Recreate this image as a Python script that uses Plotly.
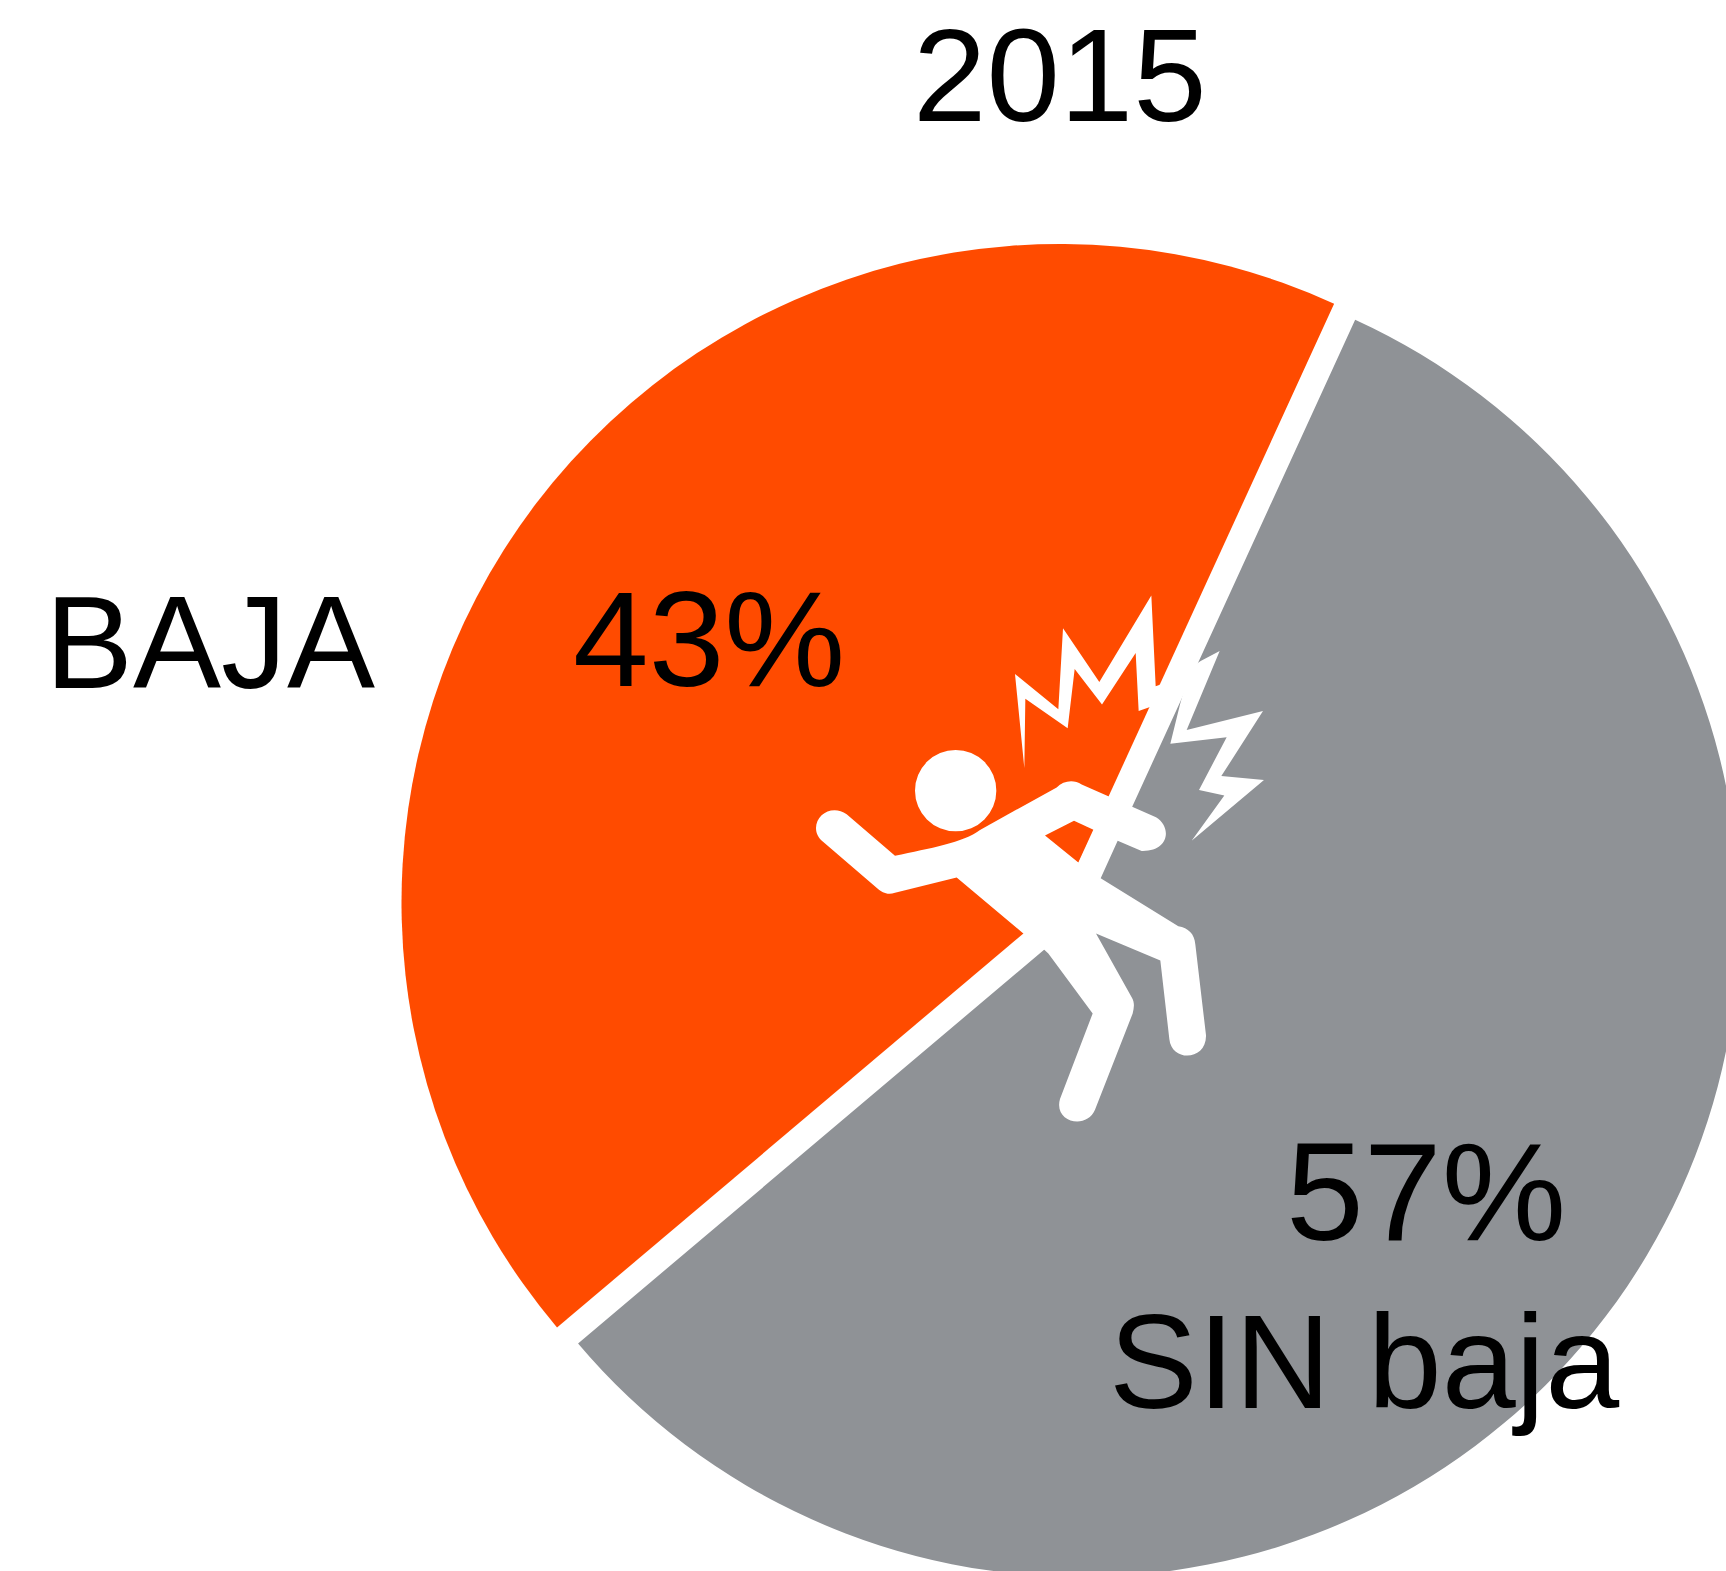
import plotly.graph_objects as go

# --- data ---
categories = ["BAJA", "SIN baja"]
values = [43, 57]
colors = ["#FF4B00", "#8F9296"]
year_label = "2015"
pull_fraction = [0, 0.0401]
start_angle = 229.8

# --- page geometry (pixels) ---
W, H = 1760, 1600
CX, CY, R = 1060.0, 902.5, 658.5
half = R * (1 + max(pull_fraction))
FONT = "Liberation Sans"
SX, SY = 3.0, 1568 / 570


def px(x, y):
    return x / W, 1 - y / H


def icon(x, y):
    """Icon drawing coordinates -> paper fractions."""
    return px(780 + x / SX, 570 + y / SY)


def path(cmds):
    out = []
    for c, *pts in cmds:
        coords = []
        for x, y in pts:
            a, b = icon(x, y)
            coords.append(f"{a:.5f},{b:.5f}")
        out.append(c + " ".join(coords))
    return " ".join(out)


body = [
    ("M", (108, 710)),
    ("C", (108, 670), (160, 645), (200, 672)),
    ("L", (345, 786)),
    ("C", (450, 765), (550, 750), (600, 715)),
    ("L", (830, 598)),
    ("C", (850, 580), (880, 575), (905, 590)),
    ("L", (1128, 680)),
    ("C", (1175, 705), (1170, 775), (1085, 773)),
    ("L", (1013, 745)),
    ("L", (962, 848)),
    ("L", (1195, 980)),
    ("C", (1225, 985), (1243, 1000), (1246, 1030)),
    ("L", (1278, 1280)),
    ("C", (1280, 1350), (1175, 1355), (1168, 1290)),
    ("L", (1141, 1074)),
    ("L", (948, 1000)),
    ("L", (1055, 1175)),
    ("C", (1065, 1190), (1062, 1205), (1058, 1220)),
    ("L", (945, 1485)),
    ("C", (920, 1540), (820, 1520), (840, 1455)),
    ("L", (938, 1220)),
    ("L", (805, 1055)),
    ("L", (793, 1045)),
    ("L", (730, 1000)),
    ("L", (530, 846)),
    ("L", (345, 888)),
    ("C", (320, 895), (305, 885), (295, 878)),
    ("L", (130, 748)),
    ("C", (115, 738), (108, 725), (108, 710)),
    ("Z",),
    ("M", (795, 730)),
    ("L", (882, 690)),
    ("L", (942, 715)),
    ("L", (896, 805)),
    ("Z",),
]
spark_left = [(733, 545), (705, 286), (835, 383), (849, 160), (958, 308), (1114, 70),
              (1127, 320), (1150, 312), (1125, 372), (1076, 388), (1067, 228), (966, 370),
              (884, 272), (863, 435), (736, 354)]
spark_right = [(1200, 370), (1230, 270), (1262, 250), (1319, 223), (1220, 440), (1449, 388),
               (1324, 567), (1452, 578), (1235, 745), (1333, 620), (1257, 605),
               (1340, 460), (1171, 478)]


def poly(points):
    return path([("M", points[0])] + [("L", p) for p in points[1:]] + [("Z",)])


white = dict(fillcolor="white", line=dict(width=0), xref="paper", yref="paper", layer="above")
x0, y1 = icon(527 - 122, 607 - 112)
x1, y0 = icon(527 + 122, 607 + 112)
shapes = [
    dict(type="path", path=path(body), **white),
    dict(type="path", path=poly(spark_left), **white),
    dict(type="path", path=poly(spark_right), **white),
    dict(type="circle", x0=x0, x1=x1, y0=y0, y1=y1, **white),
]


def label(text, left, baseline, size):
    a, b = px(left, baseline)
    return dict(text=text, x=a, y=b, xref="paper", yref="paper", xanchor="left", yanchor="bottom",
                showarrow=False, borderpad=0, yshift=-size * 0.22,
                font=dict(family=FONT, size=size, color="black"))


annotations = [
    label(year_label, 912, 121, 132),
    label(categories[0], 44, 688, 132),
    label(f"{values[0]}%", 572, 686, 136),
    label(f"{values[1]}%", 1285, 1240, 140),
    label(categories[1], 1108, 1408, 133),
]

fig = go.Figure(go.Pie(
    labels=categories, values=values, sort=False, direction="clockwise",
    rotation=start_angle, pull=pull_fraction, textinfo="none", hoverinfo="skip",
    marker=dict(colors=colors, line=dict(width=0)), showlegend=False,
    domain=dict(x=[(CX - half) / W, (CX + half) / W], y=[1 - (CY + half) / H, 1 - (CY - half) / H]),
))
fig.update_layout(width=W, height=H, margin=dict(l=0, r=0, t=0, b=0), paper_bgcolor="white",
                  shapes=shapes, annotations=annotations, showlegend=False)
fig.write_html("out.html", config=dict(displayModeBar=False),
               post_script="document.body.style.margin='0';document.documentElement.style.overflow='hidden';document.body.style.overflow='hidden';")
